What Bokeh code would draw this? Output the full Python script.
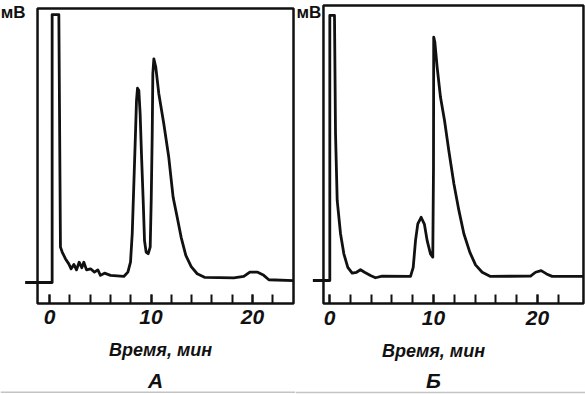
from bokeh.plotting import figure
from bokeh.layouts import row
from bokeh.models import BoxAnnotation, Label, FixedTicker, Range1d, Span
from bokeh.embed import file_html
from bokeh.resources import INLINE

# ---- data (time, min ; signal, arbitrary mV units) ----
time_A = [-2.4, 0.26, 0.26, 0.92, 1.08, 1.25, 1.58, 1.90, 2.13, 2.40, 2.66, 2.92, 3.18, 3.38,
          3.65, 4.04, 4.43, 4.76, 5.02, 5.42, 6.01, 7.32, 7.72, 7.98, 8.15, 8.31, 8.47, 8.57,
          8.67, 8.80, 8.93, 9.06, 9.23, 9.36, 9.52, 9.72, 9.92, 10.02, 10.12, 10.18, 10.28,
          10.47, 10.77, 11.26, 11.75, 12.18, 12.58, 12.97, 13.43, 13.96, 14.55, 15.27, 18.16,
          19.14, 19.74, 20.46, 21.11, 21.61, 24.04]
signal_A = [0, 0, 97.8, 97.8, 12.9, 11.1, 8.6, 6.8, 5.0, 6.6, 4.6, 7.4, 5.4, 7.4,
            4.6, 5.0, 3.8, 4.6, 2.6, 3.4, 2.6, 2.2, 3.8, 7.4, 17.8, 36.0, 54.3, 66.4,
            70.9, 70.1, 61.6, 47.0, 29.9, 15.3, 11.1, 10.5, 12.9, 29.9, 54.3, 76.2, 81.6,
            78.6, 68.9, 57.9, 45.7, 31.1, 23.8, 16.5, 9.9, 5.8, 3.2, 1.9, 1.7,
            2.2, 3.8, 3.8, 2.6, 1.0, 0.7]

time_B = [-1.6, 0.03, 0.03, 0.48, 0.58, 0.74, 1.06, 1.38, 1.76, 2.18, 2.60, 2.98, 3.37, 3.94,
          4.42, 5.07, 7.79, 8.05, 8.27, 8.49, 8.81, 9.13, 9.39, 9.71, 9.93, 10.0, 10.02, 10.13,
          10.35, 10.67, 11.06, 11.47, 11.96, 12.44, 12.92, 13.49, 14.04, 14.68, 15.48, 19.33,
          19.81, 20.35, 20.87, 21.41, 24.42]
signal_B = [0, 0, 96.4, 96.4, 53.3, 29.1, 17.0, 9.7, 4.8, 2.7, 3.0, 3.9, 3.0, 1.8,
            1.0, 1.6, 1.5, 4.8, 14.5, 20.6, 23.0, 20.4, 14.5, 9.7, 8.5, 41.2, 88.5, 86.7,
            77.6, 66.7, 58.2, 47.3, 35.2, 25.5, 17.0, 10.3, 5.7, 3.0, 1.5, 1.6,
            3.0, 3.6, 2.4, 1.5, 1.5]

major_ticks = [0, 10, 20]
minor_ticks = [0, 2, 4, 6, 8, 10, 12, 14, 16, 18, 20, 22]
x_label = "Время, мин"
y_unit = "мВ"
panel_names = ["А", "Б"]

INK = "#111111"


def panel(t, v, name, width, xr, yr, box, unit_pos, xlab_pos, name_pos, edge_y):
    p = figure(width=width, height=394, output_backend="svg", toolbar_location=None,
               title=None, x_range=Range1d(*xr), y_range=Range1d(*yr),
               y_axis_location=None, x_axis_location="below",
               min_border=0, min_border_left=0, min_border_right=0,
               min_border_top=0, min_border_bottom=0)
    p.outline_line_color = None
    p.grid.visible = False
    p.background_fill_color = "white"
    p.border_fill_color = "white"

    ax = p.xaxis[0]
    ax.fixed_location = box[2]
    ax.ticker = FixedTicker(ticks=major_ticks, minor_ticks=minor_ticks)
    ax.axis_line_color = None
    ax.major_tick_in = 9
    ax.major_tick_out = 0
    ax.minor_tick_in = 9
    ax.minor_tick_out = 0
    ax.major_tick_line_width = 2
    ax.minor_tick_line_width = 2
    ax.major_tick_line_color = INK
    ax.minor_tick_line_color = INK
    ax.major_label_text_font = "Liberation Sans"
    ax.major_label_text_font_style = "bold italic"
    ax.major_label_text_font_size = "21px"
    ax.major_label_text_color = INK
    ax.major_label_standoff = 7

    p.add_layout(BoxAnnotation(left=box[0], right=box[1], bottom=box[2], top=box[3],
                               fill_alpha=0, line_color=INK, line_alpha=1.0, line_width=2.5))

    p.add_layout(Span(location=edge_y, dimension="width", line_color="#c4c4c4",
                      line_width=1.5))

    p.line(t, v, line_color=INK, line_width=2.8, line_join="round")

    p.add_layout(Label(x=unit_pos[0], y=unit_pos[1], text=y_unit, text_font="Liberation Sans",
                       text_font_size="17px", text_font_style="bold", text_color=INK,
                       text_baseline="middle", text_align="left"))
    p.add_layout(Label(x=xlab_pos[0], y=xlab_pos[1], text=x_label, text_font="Liberation Sans",
                       text_font_size="18px", text_font_style="bold italic", text_color=INK,
                       text_baseline="middle", text_align="center"))
    p.add_layout(Label(x=name_pos[0], y=name_pos[1], text=name, text_font="Liberation Sans",
                       text_font_size="21px", text_font_style="bold italic", text_color=INK,
                       text_baseline="middle", text_align="center"))
    return p


pA = panel(time_A, signal_A, panel_names[0], 295,
           (-4.828, 24.236), (-40.88, 102.92), (-1.18, 24.04, -7.66, 100),
           (-4.8, 98.7), (10.94, -24.8), (10.44, -35.8), -40.1)
pB = panel(time_B, signal_B, panel_names[1], 290,
           (-3.269, 24.615), (-41.45, 101.82), (-0.58, 24.42, -8.36, 100),
           (-3.17, 97.6), (10.0, -25.5), (10.0, -36.4), -40.7)

layout = row(pA, pB)
open("out.html", "w").write(file_html(layout, INLINE))
